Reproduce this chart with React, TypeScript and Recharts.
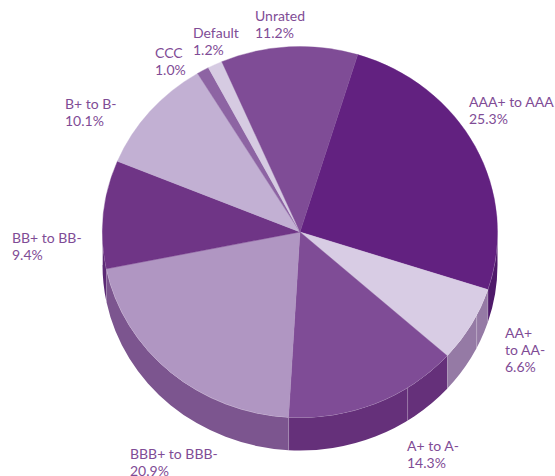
import React from "react";
import { PieChart, Pie } from "recharts";

const categories = ["AAA+ to AAA", "AA+ to AA-", "A+ to A-", "BBB+ to BBB-", "BB+ to BB-", "B+ to B-", "CCC", "Default", "Unrated"];
const values = [25.3, 6.6, 14.3, 20.9, 9.4, 10.1, 1.0, 1.2, 11.2];
const labelLines = [["AAA+ to AAA"], ["AA+", "to AA-"], ["A+ to A-"], ["BBB+ to BBB-"], ["BB+ to BB-"], ["B+ to B-"], ["CCC"], ["Default"], ["Unrated"]];

const topColors = ["#622180", "#d8cce4", "#7f4c96", "#b096c2", "#6f3586", "#c2b0d3", "#8d64a3", "#d6cbe2", "#7f4c96"];
const wallColors = ["#4f1a6a", "#957aa5", "#65307a", "#7c558f", "#5c2a75", "#8d75a0", "#6f4a85", "#95859f", "#65307a"];
const labelSpots = [[469, 107], [505, 338], [407, 451], [130, 459], [12, 243], [65, 109], [155, 58], [193, 38], [255, 21]];
const seamAngles: number[][] = [[], [-26.6], [-57], [], [], [], [], [], []];

const CX = 300;
const CY = 232;
const RX = 197.5;
const RY = 185.5;
const DEPTH = 33;
const START = 73;

const rows = categories.map((name, i) => ({ name, value: values[i], fill: topColors[i] }));

const pt = (a: number, dy = 0) => {
  const r = (a * Math.PI) / 180;
  return [CX + RX * Math.cos(r), CY - RY * Math.sin(r) + dy];
};

function TopSlice(p: any) {
  const [x1, y1] = pt(p.startAngle);
  const [x2, y2] = pt(p.endAngle);
  const large = Math.abs(p.startAngle - p.endAngle) > 180 ? 1 : 0;
  return (
    <path
      d={`M${CX},${CY}L${x1},${y1}A${RX},${RY} 0 ${large} 1 ${x2},${y2}Z`}
      fill={topColors[p.index]}
      stroke={topColors[p.index]}
      strokeWidth={0.4}
    />
  );
}

function WallSlice(p: any) {
  const hi = Math.min(p.startAngle, 0);
  const lo = Math.max(p.endAngle, -180);
  if (hi <= lo) return <g />;
  const [x1, y1] = pt(hi);
  const [x2, y2] = pt(lo);
  const [x3, y3] = pt(lo, DEPTH);
  const [x4, y4] = pt(hi, DEPTH);
  return (
    <g>
      <path
        d={`M${x1},${y1}A${RX},${RY} 0 0 1 ${x2},${y2}L${x3},${y3}A${RX},${RY} 0 0 0 ${x4},${y4}Z`}
        fill={wallColors[p.index]}
      />
      <path d={`M${x2},${y2}L${x3},${y3}`} stroke="#ffffff" strokeOpacity={0.4} strokeWidth={1} />
      <path d={`M${x1},${y1}A${RX},${RY} 0 0 1 ${x2},${y2}`} fill="none" stroke="#ffffff" strokeOpacity={0.5} strokeWidth={1} />
      {seamAngles[p.index].map((a) => {
        const [sx, sy] = pt(a);
        const [tx, ty] = pt(a, DEPTH);
        return <path key={a} d={`M${sx},${sy}L${tx},${ty}`} stroke="#ffffff" strokeOpacity={0.35} strokeWidth={1} />;
      })}
    </g>
  );
}

function SliceLabel(p: any) {
  const i = p.index;
  const [x, y] = labelSpots[i];
  const lines = [...labelLines[i], `${values[i].toFixed(1)}%`];
  return (
    <text x={x} y={y} fill="#7f4c96" fontFamily="Lato, sans-serif" fontSize={14} textAnchor="start">
      {lines.map((l, k) => (
        <tspan key={k} x={x} y={y + k * 16.8}>
          {l}
        </tspan>
      ))}
    </text>
  );
}

export default function App() {
  return (
    <div style={{ position: "absolute", left: 0, top: 0, width: 555, height: 476, overflow: "hidden", background: "#fff" }}>
      <PieChart width={555} height={476} margin={{ top: 0, right: 0, bottom: 0, left: 0 }}>
        <Pie
          data={rows}
          dataKey="value"
          nameKey="name"
          cx={CX}
          cy={CY}
          outerRadius={RX}
          startAngle={START}
          endAngle={START - 360}
          shape={WallSlice}
          stroke="none"
          isAnimationActive={false}
        />
        <Pie
          data={rows}
          dataKey="value"
          nameKey="name"
          cx={CX}
          cy={CY}
          outerRadius={RX}
          startAngle={START}
          endAngle={START - 360}
          shape={TopSlice}
          stroke="none"
          label={SliceLabel}
          labelLine={false}
          isAnimationActive={false}
        />
      </PieChart>
    </div>
  );
}
